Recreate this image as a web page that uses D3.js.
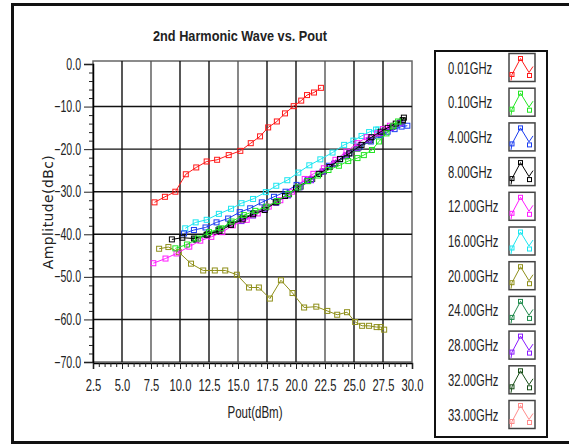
<!DOCTYPE html>
<html>
<head>
<meta charset="utf-8">
<script src="https://cdn.jsdelivr.net/npm/d3@7"></script>
<style>
  body { margin: 0; background: #fff; }
  text { font-family: 'Liberation Sans', Arial, sans-serif; fill: #222; }
</style>
</head>
<body>
<div id="chart"></div>
<script>
// series readings, [Pout dBm, amplitude dBc]
const pts001 = [[7.8,-32.5],[8.7,-31.2],[9.6,-30.0],[10.5,-25.9],[11.4,-24.3],[12.3,-22.9],[13.2,-22.5],[14.2,-21.4],[15.2,-20.4],[16.1,-18.6],[16.9,-17.0],[17.6,-14.9],[18.35,-13.5],[19.05,-11.6],[19.8,-9.9],[20.45,-8.6],[20.95,-7.3],[21.55,-6.7],[22.15,-5.6]];
const pts010 = [[9.6,-43.3],[10.6,-42.4],[11.55,-41.0],[12.5,-39.5],[13.55,-38.6],[14.45,-37.0],[15.5,-35.5],[16.5,-34.5],[17.45,-33.5],[18.4,-32.2],[19.35,-30.5],[20.2,-29.0],[21.05,-27.5],[21.9,-26.2],[22.8,-24.9],[23.7,-23.9],[24.5,-22.8],[25.3,-22.1],[25.85,-21.4],[26.55,-20.2],[27.15,-18.2],[27.8,-16.3],[28.4,-14.5],[28.8,-13.5]];
const pts4 = [[10.35,-39.8],[11.2,-39.0],[12.2,-38.4],[13.15,-37.2],[14.15,-36.3],[15.15,-34.8],[16.05,-33.9],[17.05,-32.5],[18.1,-31.2],[19.1,-30.0],[20.05,-28.4],[21.0,-27.2],[21.9,-25.8],[22.85,-23.9],[23.8,-22.4],[24.6,-21.0],[25.5,-19.4],[26.45,-18.2],[27.3,-16.7],[27.9,-15.9],[28.5,-15.3],[29.1,-14.7],[29.6,-14.5]];
const pts8 = [[9.3,-41.2],[10.2,-40.8],[11.2,-41.0],[12.3,-40.1],[13.4,-39.2],[14.4,-37.8],[15.4,-36.5],[16.3,-35.3],[17.3,-34.3],[18.25,-32.5],[19.05,-31.0],[20.0,-29.2],[21.0,-27.5],[22.0,-25.8],[22.9,-24.2],[23.8,-22.3],[24.6,-21.0],[25.65,-19.0],[26.5,-17.2],[27.3,-15.9],[27.9,-15.0],[28.6,-14.0],[29.2,-13.2],[29.3,-12.6]];
const pts12 = [[7.7,-46.8],[8.75,-45.7],[9.7,-44.5],[10.8,-42.9],[11.75,-41.5],[12.7,-40.6],[13.65,-39.5],[14.55,-37.9],[15.75,-36.6],[16.7,-35.1],[17.65,-33.5],[18.65,-32.0],[19.65,-30.0],[20.75,-27.0],[21.5,-25.8],[22.4,-24.5],[23.4,-22.5],[24.35,-20.6],[25.3,-18.6],[26.1,-17.2],[27.0,-16.3],[27.5,-15.3],[28.1,-14.5]];
const pts16 = [[10.45,-38.6],[11.35,-37.2],[12.3,-36.6],[13.35,-35.2],[14.4,-34.0],[15.3,-32.7],[16.3,-31.7],[17.4,-30.1],[18.3,-28.6],[19.25,-27.3],[20.2,-25.5],[21.15,-23.8],[22.1,-22.4],[23.15,-20.8],[24.15,-19.0],[24.95,-18.0],[25.65,-16.9],[26.3,-16.0],[26.9,-15.4],[27.1,-15.4]];
const pts20 = [[8.2,-43.4],[9.0,-43.0],[9.9,-44.2],[10.95,-46.9],[12.0,-48.5],[13.0,-48.5],[13.9,-48.5],[14.9,-49.5],[15.95,-52.5],[16.8,-52.5],[17.75,-55.1],[18.7,-50.8],[19.7,-53.8],[20.7,-57.2],[21.75,-57.0],[22.7,-58.0],[23.55,-58.9],[24.4,-58.3],[25.1,-60.6],[25.7,-61.5],[26.3,-61.5],[26.95,-61.8],[27.3,-61.8],[27.6,-62.4]];
const pts24 = [[11.3,-41.2],[12.3,-40.2],[13.3,-39.0],[14.3,-37.6],[15.3,-36.4],[16.3,-35.2],[17.3,-33.9],[18.3,-32.4],[19.3,-30.7],[20.3,-28.9],[21.3,-27.1],[22.3,-25.3],[23.3,-23.5],[24.3,-21.7],[25.3,-19.9],[26.3,-18.0],[27.3,-16.4],[28.3,-14.8],[29.0,-13.7]];
const pts28 = [[15.3,-36.9],[16.3,-35.6],[17.3,-34.0],[18.3,-32.6],[19.3,-30.9],[20.3,-29.0],[21.3,-27.3],[22.3,-25.3],[23.3,-23.4],[24.3,-21.5],[25.3,-19.7],[26.3,-17.9],[27.3,-16.2],[28.2,-15.0],[29.0,-13.9]];
const pts32 = [[11.4,-41.3],[12.4,-40.0],[13.4,-38.8],[14.4,-37.5],[15.4,-36.2],[16.4,-35.0],[17.4,-33.7],[18.4,-32.2],[19.4,-30.6],[20.4,-28.8],[21.4,-27.0],[22.4,-25.2],[23.4,-23.3],[24.4,-21.5],[25.4,-19.6],[26.4,-17.9],[27.4,-16.2],[28.4,-14.6],[29.2,-13.3]];
const pts33 = [];

const seriesNames = ['0.01GHz','0.10GHz','4.00GHz','8.00GHz','12.00GHz','16.00GHz','20.00GHz','24.00GHz','28.00GHz','32.00GHz','33.00GHz'];
const seriesColors = ['#ff1a1a','#22e622','#1a3cf0','#000000','#ff1aff','#1ae6f0','#8f8f1a','#1f8a4c','#8a1aff','#174d17','#ff8c8c'];
const seriesPoints = [pts001, pts010, pts4, pts8, pts12, pts16, pts20, pts24, pts28, pts32, pts33];
// draw order so the overlaps look roughly like the original
const drawOrder = [6, 0, 5, 2, 9, 7, 8, 4, 3, 1];

const xTicks = [2.5,5,7.5,10,12.5,15,17.5,20,22.5,25,27.5,30];
const yTicks = [0,-10,-20,-30,-40,-50,-60,-70];

const W = 569, H = 447;
const plot = { left: 93, right: 412, top: 64, bottom: 362 };

// the original's text is tall and narrow, squeeze glyphs horizontally
function squeeze(sel, k) {
  sel.each(function () {
    const w = this.getComputedTextLength();
    d3.select(this).attr('textLength', w * k).attr('lengthAdjust', 'spacingAndGlyphs');
  });
}

const svg = d3.select('#chart').append('svg')
  .attr('width', W).attr('height', H);

// outer frame
svg.append('rect')
  .attr('x', 12.5).attr('y', 4.5).attr('width', 600).attr('height', 438)
  .attr('fill', 'none').attr('stroke', '#111').attr('stroke-width', 3);

svg.append('text')
  .attr('x', 240).attr('y', 41)
  .attr('text-anchor', 'middle')
  .style('font-weight', 'bold').style('font-size', '15px')
  .attr('textLength', 174).attr('lengthAdjust', 'spacingAndGlyphs')
  .attr('fill', '#111')
  .text('2nd Harmonic Wave vs. Pout');

const x = d3.scaleLinear().domain([2.5, 30]).range([plot.left, plot.right]);
const y = d3.scaleLinear().domain([-70, 0]).range([plot.bottom, plot.top]);

// plot frame (top sits a little above the 0 line like the original)
svg.append('rect')
  .attr('x', plot.left).attr('y', plot.top - 3)
  .attr('width', plot.right - plot.left).attr('height', plot.bottom - plot.top + 3)
  .attr('fill', '#fff').attr('stroke', '#666').attr('stroke-width', 1.5);

// grid
const grid = svg.append('g');
grid.selectAll('line.v').data(xTicks.slice(1, -1)).enter().append('line')
  .attr('x1', d => x(d)).attr('x2', d => x(d))
  .attr('y1', plot.top - 3).attr('y2', plot.bottom)
  .attr('stroke', (d, i) => i % 3 === 1 ? '#555' : '#111').attr('stroke-width', 1.4);
grid.selectAll('line.h').data(yTicks.slice(1, -1)).enter().append('line')
  .attr('x1', plot.left).attr('x2', plot.right)
  .attr('y1', d => y(d)).attr('y2', d => y(d))
  .attr('stroke', '#111').attr('stroke-width', 1.4);

// left axis, minor ticks every 2 dB
const yAxis = d3.axisLeft(y).tickValues(yTicks).tickSize(9).tickPadding(3).tickFormat(d3.format('.1f'));
const gy = svg.append('g').attr('transform', `translate(${plot.left},0)`).call(yAxis);
gy.select('.domain').attr('stroke', '#000').attr('stroke-width', 1.5);
gy.selectAll('.tick line').attr('stroke', '#222');
gy.selectAll('text').style('font-size', '16px').attr('fill', '#222').call(squeeze, 0.66);
svg.append('g').attr('transform', `translate(${plot.left},0)`)
  .call(d3.axisLeft(y).tickValues(d3.range(-70, 0.1, 2).filter(v => v % 10 !== 0)).tickSize(4).tickFormat(''))
  .call(g => g.select('.domain').remove())
  .selectAll('line').attr('stroke', '#222');

// bottom axis, minor ticks every 0.5
const xAxis = d3.axisBottom(x).tickValues(xTicks).tickSize(6).tickPadding(11).tickFormat(d3.format('.1f'));
const gx = svg.append('g').attr('transform', `translate(0,${plot.bottom + 1})`).call(xAxis);
gx.select('.domain').attr('stroke', '#000').attr('stroke-width', 1.5);
gx.selectAll('.tick line').attr('stroke', '#222');
gx.selectAll('text').style('font-size', '16px').attr('fill', '#222').call(squeeze, 0.7);
svg.append('g').attr('transform', `translate(0,${plot.bottom + 1})`)
  .call(d3.axisBottom(x).tickValues(d3.range(3, 30, 0.5).filter(v => (v / 2.5) % 1 !== 0)).tickSize(4).tickFormat(''))
  .call(g => g.select('.domain').remove())
  .selectAll('line').attr('stroke', '#222');

// axis titles
svg.append('text')
  .attr('x', 255).attr('y', 418).attr('text-anchor', 'middle')
  .style('font-size', '16px').text('Pout(dBm)')
  .call(squeeze, 0.72);
svg.append('text')
  .attr('transform', 'translate(53,212) rotate(-90)').attr('text-anchor', 'middle')
  .style('font-family', "'DejaVu Sans', sans-serif").style('font-size', '14px')
  .style('letter-spacing', '0.4px')
  .text('Amplitude(dBc)');

// series
const line = d3.line().x(d => x(d[0])).y(d => y(d[1]));
const plotArea = svg.append('g');
drawOrder.forEach(si => {
  const g = plotArea.append('g');
  g.append('path').datum(seriesPoints[si])
    .attr('d', line).attr('fill', 'none')
    .attr('stroke', seriesColors[si]).attr('stroke-width', 1);
  g.selectAll('rect').data(seriesPoints[si]).enter().append('rect')
    .attr('x', d => x(d[0]) - 2.5).attr('y', d => y(d[1]) - 2.5)
    .attr('width', 5).attr('height', 5)
    .attr('fill', 'none').attr('stroke', seriesColors[si]).attr('stroke-width', 1);
});

// legend
const legend = svg.append('g');
legend.append('rect')
  .attr('x', 435).attr('y', 51).attr('width', 112).attr('height', 386)
  .attr('fill', '#fff').attr('stroke', '#111').attr('stroke-width', 2);

const iconLine = [[2, 27], [3, 21], [11.5, 5], [20, 19], [24, 13]];
const iconMarks = [[3, 21], [11.5, 5], [20.5, 22]];
const items = legend.selectAll('g.item').data(seriesNames).enter().append('g')
  .attr('transform', (d, i) => `translate(0,${67.5 + i * 34.7})`);
items.append('text')
  .attr('x', 448).attr('y', 6)
  .style('font-size', '16px').attr('fill', '#222')
  .text(d => d)
  .call(squeeze, 0.7);
const icon = items.append('g').attr('transform', 'translate(509,-14)');
icon.append('rect')
  .attr('width', 26).attr('height', 28)
  .attr('fill', '#fff').attr('stroke', '#444').attr('stroke-width', 1.5);
icon.append('path')
  .attr('d', d3.line()(iconLine)).attr('fill', 'none')
  .attr('stroke', (d, i) => seriesColors[i]).attr('stroke-width', 1);
icon.each(function (d, i) {
  d3.select(this).selectAll('rect.m').data(iconMarks).enter().append('rect')
    .attr('class', 'm')
    .attr('x', p => p[0] - 2).attr('y', p => p[1] - 2)
    .attr('width', 4).attr('height', 4)
    .attr('fill', 'none').attr('stroke', seriesColors[i]).attr('stroke-width', 1);
});
</script>
</body>
</html>
